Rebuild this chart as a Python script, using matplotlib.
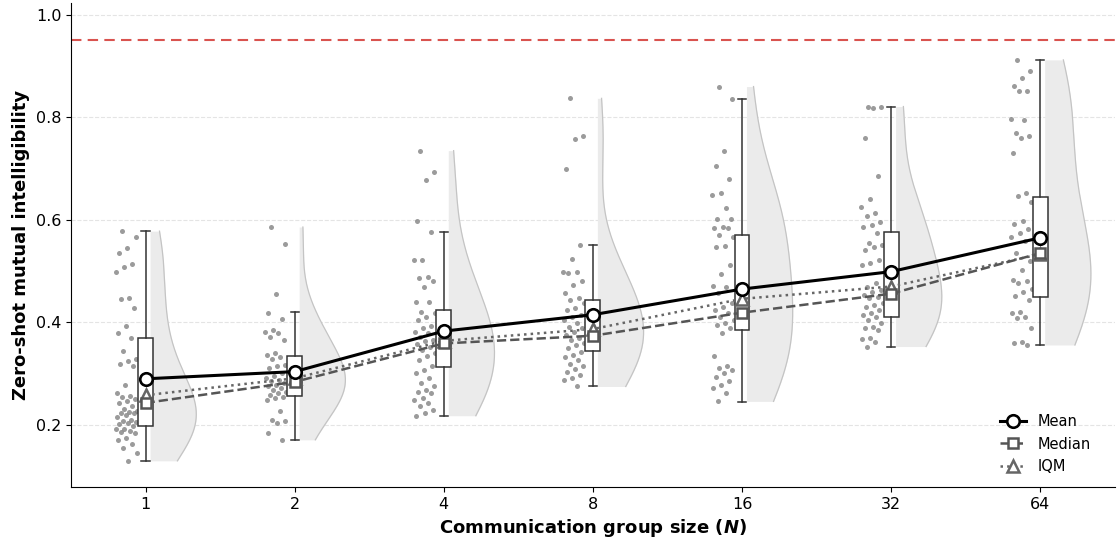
import matplotlib
matplotlib.use('Agg')
import matplotlib.pyplot as plt
import numpy as np

group_sizes = ['1', '2', '4', '8', '16', '32', '64']

# per-run scores
scores_1 = [0.578, 0.566, 0.545, 0.535, 0.513, 0.509, 0.498, 0.448, 0.446, 0.428, 0.393, 0.379,
            0.370, 0.345, 0.328, 0.324, 0.319, 0.314, 0.277, 0.262, 0.257, 0.255, 0.250, 0.246,
            0.242, 0.236, 0.232, 0.228, 0.226, 0.224, 0.223, 0.219, 0.216, 0.210, 0.207, 0.205,
            0.203, 0.202, 0.197, 0.193, 0.192, 0.189, 0.186, 0.184, 0.174, 0.171, 0.163, 0.155,
            0.145, 0.130]
scores_2 = [0.586, 0.553, 0.456, 0.418, 0.406, 0.385, 0.382, 0.379, 0.372, 0.365, 0.341, 0.337,
            0.333, 0.328, 0.317, 0.314, 0.311, 0.301, 0.296, 0.291, 0.288, 0.285, 0.281, 0.278,
            0.275, 0.272, 0.268, 0.265, 0.262, 0.259, 0.255, 0.252, 0.249, 0.228, 0.210, 0.207,
            0.203, 0.184, 0.171]
scores_4 = [0.735, 0.693, 0.678, 0.598, 0.576, 0.522, 0.522, 0.489, 0.486, 0.480, 0.470, 0.439,
            0.439, 0.421, 0.418, 0.411, 0.405, 0.393, 0.389, 0.382, 0.379, 0.372, 0.366, 0.363,
            0.358, 0.353, 0.346, 0.340, 0.335, 0.327, 0.314, 0.307, 0.301, 0.291, 0.281, 0.275,
            0.268, 0.265, 0.262, 0.252, 0.249, 0.242, 0.236, 0.229, 0.223, 0.218]
scores_8 = [0.837, 0.763, 0.757, 0.700, 0.550, 0.523, 0.499, 0.499, 0.497, 0.480, 0.473, 0.457,
            0.447, 0.444, 0.437, 0.428, 0.424, 0.415, 0.411, 0.405, 0.398, 0.392, 0.389, 0.382,
            0.376, 0.369, 0.365, 0.359, 0.356, 0.350, 0.343, 0.337, 0.333, 0.327, 0.319, 0.314,
            0.309, 0.304, 0.298, 0.291, 0.288, 0.275]
scores_16 = [0.860, 0.836, 0.735, 0.705, 0.679, 0.652, 0.649, 0.623, 0.601, 0.601, 0.587, 0.584,
             0.584, 0.571, 0.567, 0.549, 0.548, 0.512, 0.494, 0.471, 0.470, 0.457, 0.437, 0.431,
             0.424, 0.418, 0.411, 0.405, 0.398, 0.395, 0.389, 0.379, 0.335, 0.314, 0.311, 0.307,
             0.301, 0.294, 0.285, 0.278, 0.272, 0.262, 0.246]
scores_32 = [0.821, 0.821, 0.819, 0.759, 0.685, 0.640, 0.625, 0.613, 0.607, 0.595, 0.590, 0.587,
             0.574, 0.554, 0.551, 0.548, 0.541, 0.522, 0.515, 0.512, 0.476, 0.470, 0.463, 0.460,
             0.454, 0.450, 0.447, 0.437, 0.434, 0.431, 0.424, 0.418, 0.415, 0.411, 0.405, 0.398,
             0.392, 0.389, 0.385, 0.369, 0.367, 0.361, 0.353]
scores_64 = [0.912, 0.891, 0.876, 0.861, 0.852, 0.852, 0.796, 0.795, 0.769, 0.764, 0.759, 0.730,
             0.653, 0.646, 0.634, 0.597, 0.592, 0.582, 0.575, 0.567, 0.558, 0.536, 0.519, 0.502,
             0.483, 0.480, 0.476, 0.465, 0.460, 0.452, 0.444, 0.421, 0.418, 0.411, 0.408, 0.389,
             0.361, 0.359, 0.356]
all_scores = [scores_1, scores_2, scores_4, scores_8, scores_16, scores_32, scores_64]

# box statistics and summary lines
q1 = [0.198, 0.257, 0.313, 0.344, 0.385, 0.411, 0.450]
q3 = [0.370, 0.335, 0.424, 0.443, 0.571, 0.577, 0.645]
whis_lo = [0.130, 0.171, 0.218, 0.275, 0.244, 0.352, 0.355]
whis_hi = [0.578, 0.420, 0.576, 0.550, 0.836, 0.821, 0.911]
means = [0.290, 0.304, 0.383, 0.415, 0.465, 0.499, 0.565]
medians = [0.243, 0.284, 0.359, 0.374, 0.419, 0.456, 0.535]
iqms = [0.258, 0.291, 0.364, 0.387, 0.446, 0.470, 0.533]
target = 0.95

fig = plt.figure(figsize=(11.17, 5.42), dpi=100)
ax = fig.add_axes([0.0636, 0.1015, 0.9344, 0.893])

xs = np.arange(len(group_sizes))

# half violins (right side)
for i, s in enumerate(all_scores):
    s = np.array(s)
    bw = 1.3 * s.std(ddof=1) * len(s) ** (-1 / 5)
    grid = np.linspace(s.min(), s.max(), 200)
    dens = np.exp(-0.5 * ((grid[:, None] - s[None, :]) / bw) ** 2).sum(axis=1)
    dens = dens / dens.max() * 0.31
    left = i + 0.03
    ax.fill_betweenx(grid, left, left + dens, color='#ebebeb', lw=0, zorder=1)
    ax.plot(left + dens, grid, color='#c4c4c4', lw=0.9, zorder=1.5)

# jittered dots (left side)
for i, s in enumerate(all_scores):
    n = len(s)
    off = -0.2 + 0.145 * ((np.arange(n) * 0.618034 + 0.3) % 1)
    ax.scatter(i + off, s, s=13, color='#7a7a7a', alpha=0.75, lw=0, zorder=2)

# boxes
stats = []
for i in range(len(group_sizes)):
    stats.append(dict(q1=q1[i], q3=q3[i], med=medians[i], whislo=whis_lo[i], whishi=whis_hi[i]))
ax.bxp(stats, positions=xs, widths=0.1, showfliers=False, patch_artist=True,
       boxprops=dict(facecolor='white', edgecolor='#333333', lw=1.1),
       whiskerprops=dict(color='#333333', lw=1.1),
       capprops=dict(color='#333333', lw=1.1),
       medianprops=dict(visible=False), capwidths=0.055,
       zorder=3)

ax.plot(xs, iqms, ls=':', color='#666666', lw=1.8, marker='^', ms=8,
        mfc='white', mec='#666666', mew=1.8, label='IQM', zorder=4)
ax.plot(xs, medians, ls='--', color='#555555', lw=1.8, marker='s', ms=7.5,
        mfc='white', mec='#555555', mew=1.8, label='Median', zorder=4)
ax.plot(xs, means, ls='-', color='black', lw=2.2, marker='o', ms=9,
        mfc='white', mec='black', mew=1.9, label='Mean', zorder=5)

ax.axhline(target, color='#d9534f', ls='--', lw=1.5, dashes=(5, 3), zorder=1)

ax.set_xlim(-0.5, 6.5)
ax.set_ylim(0.079, 1.023)
ax.set_xticks(xs)
ax.set_xticklabels(group_sizes)
ax.set_yticks([0.2, 0.4, 0.6, 0.8, 1.0])
ax.tick_params(labelsize=11.5)
ax.yaxis.grid(True, ls='--', color='#e4e4e4', lw=0.8)
ax.set_axisbelow(True)
for sp in ['top', 'right']:
    ax.spines[sp].set_visible(False)

ax.set_xlabel(r'Communication group size ($\mathbfit{N}$)', fontsize=13, fontweight='bold')
ax.set_ylabel('Zero-shot mutual intelligibility', fontsize=13, fontweight='bold')

h, l = ax.get_legend_handles_labels()
ax.legend(h[::-1], l[::-1], loc='lower right', frameon=False, fontsize=10.5,
          handlelength=1.8, bbox_to_anchor=(0.99, 0.0))

fig.savefig('out.png', dpi=100)
